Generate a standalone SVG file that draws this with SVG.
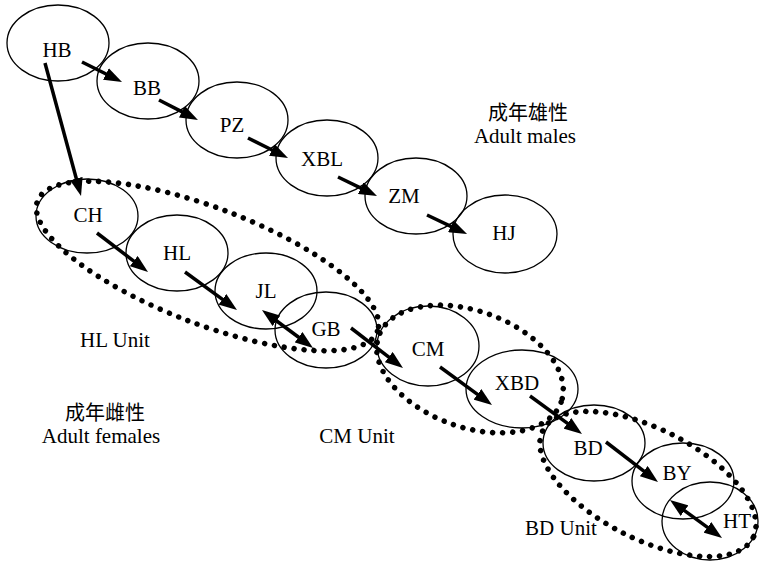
<svg xmlns="http://www.w3.org/2000/svg" width="759" height="562" viewBox="0 0 759 562">
<defs>
<style>
.node ellipse{fill:none;stroke:#000;stroke-width:1.3}
.unit{fill:none;stroke:#000;stroke-width:5.5;stroke-dasharray:0 10;stroke-linecap:round}
text{font-family:"Liberation Serif","Times New Roman","DejaVu Serif",serif;font-size:21px;fill:#000;text-anchor:middle}
text.cjk{font-family:"Noto Sans CJK SC","Noto Sans CJK JP",sans-serif;font-size:20px}
.arr line{stroke:#000;stroke-width:3.5}
</style>
<marker id="ah" markerUnits="userSpaceOnUse" markerWidth="18" markerHeight="13" viewBox="0 0 18 13" refX="3" refY="6.5" orient="auto-start-reverse"><path d="M0,0 L18,6.5 L0,13 z" fill="#000"/></marker>
</defs>
<rect width="759" height="562" fill="#fff"/>
<g id="units">
<ellipse id="hl-unit" class="unit" cx="207.5" cy="266" rx="182" ry="58" transform="rotate(21 207.5 266)"/>
<ellipse id="cm-unit" class="unit" cx="470" cy="369" rx="97" ry="58" transform="rotate(20 470 369)"/>
<ellipse id="bd-unit" class="unit" cx="648" cy="484" rx="118" ry="55" transform="rotate(27 648 484)"/>
</g>
<g id="HB" class="node"><ellipse cx="58" cy="43" rx="51" ry="38"/><text x="57" y="57">HB</text></g>
<g id="BB" class="node"><ellipse cx="148" cy="81" rx="51" ry="38"/><text x="147" y="95">BB</text></g>
<g id="PZ" class="node"><ellipse cx="237" cy="120" rx="51" ry="38"/><text x="232" y="132">PZ</text></g>
<g id="XBL" class="node"><ellipse cx="327" cy="158" rx="51" ry="38"/><text x="322" y="166">XBL</text></g>
<g id="ZM" class="node"><ellipse cx="416" cy="196" rx="51" ry="38"/><text x="404" y="203">ZM</text></g>
<g id="HJ" class="node"><ellipse cx="505" cy="234" rx="52" ry="39"/><text x="504" y="240">HJ</text></g>
<g id="CH" class="node"><ellipse cx="87" cy="216" rx="51" ry="37"/><text x="88" y="222">CH</text></g>
<g id="HL" class="node"><ellipse cx="177" cy="253" rx="51" ry="38"/><text x="177" y="260">HL</text></g>
<g id="JL" class="node"><ellipse cx="266" cy="291" rx="51" ry="38"/><text x="266" y="298">JL</text></g>
<g id="GB" class="node"><ellipse cx="326" cy="330" rx="51" ry="38"/><text x="326" y="336">GB</text></g>
<g id="CM" class="node"><ellipse cx="428" cy="346" rx="51" ry="40"/><text x="428" y="356">CM</text></g>
<g id="XBD" class="node"><ellipse cx="522" cy="389" rx="56" ry="39"/><text x="517" y="390">XBD</text></g>
<g id="BD" class="node"><ellipse cx="594" cy="443" rx="51" ry="38"/><text x="588" y="455">BD</text></g>
<g id="BY" class="node"><ellipse cx="683" cy="481" rx="51" ry="38"/><text x="677" y="480">BY</text></g>
<g id="HT" class="node"><ellipse cx="710" cy="521" rx="48" ry="39"/><text x="737" y="528">HT</text></g>
<g id="connectors" class="arr">
<line x1="45" y1="63" x2="77.1" y2="181.5" marker-end="url(#ah)"/>
<line x1="82" y1="62" x2="108.6" y2="75.3" marker-end="url(#ah)"/>
<line x1="159" y1="100" x2="184.6" y2="113.1" marker-end="url(#ah)"/>
<line x1="248" y1="138" x2="274.6" y2="151.3" marker-end="url(#ah)"/>
<line x1="338" y1="177" x2="363.5" y2="189.4" marker-end="url(#ah)"/>
<line x1="427" y1="215" x2="453.5" y2="227.6" marker-end="url(#ah)"/>
<line x1="97" y1="233" x2="136.1" y2="262.9" marker-end="url(#ah)"/>
<line x1="185" y1="272" x2="224.9" y2="301.1" marker-end="url(#ah)"/>
<line x1="274" y1="319" x2="301" y2="339" marker-start="url(#ah)" marker-end="url(#ah)"/>
<line x1="351" y1="328" x2="391.1" y2="358.9" marker-end="url(#ah)"/>
<line x1="440" y1="367" x2="479.9" y2="396.1" marker-end="url(#ah)"/>
<line x1="530" y1="396" x2="569.9" y2="425.1" marker-end="url(#ah)"/>
<line x1="606" y1="442" x2="646.1" y2="472.9" marker-end="url(#ah)"/>
<line x1="682.1" y1="508.9" x2="709.9" y2="529.1" marker-start="url(#ah)" marker-end="url(#ah)"/>
</g>
<g id="labels">
<text class="cjk" x="528" y="120">成年雄性</text>
<text x="525" y="143">Adult males</text>
<text class="cjk" x="105" y="420">成年雌性</text>
<text x="101" y="443">Adult females</text>
<text x="115" y="347">HL Unit</text>
<text x="357" y="443">CM Unit</text>
<text x="561" y="535">BD Unit</text>
</g>
</svg>
